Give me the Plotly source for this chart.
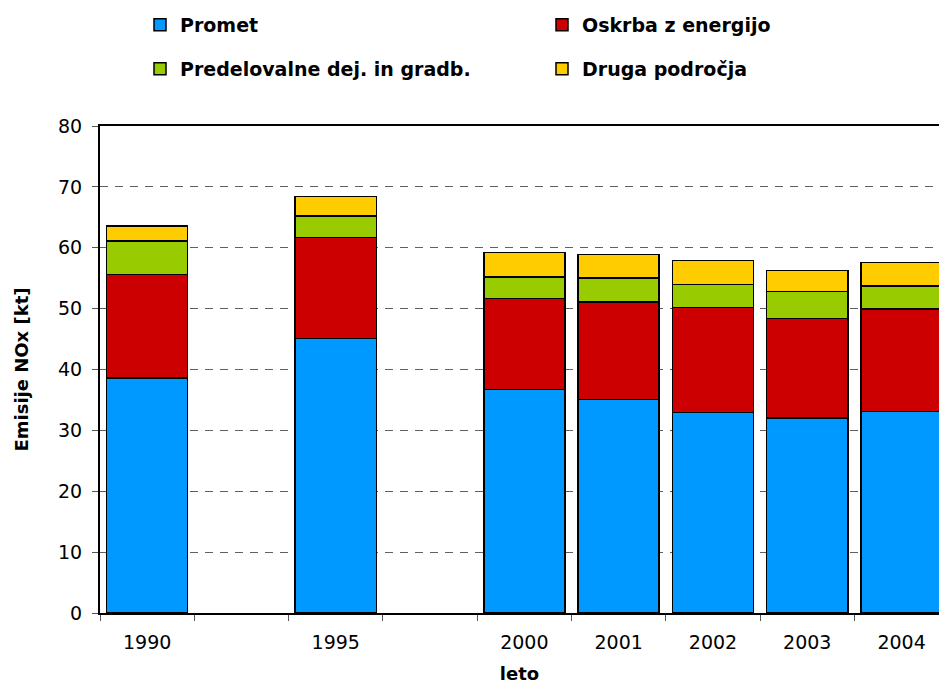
import plotly.graph_objects as go

# leta (prazni mesti med 1990, 1995 in 2000)
kategorije = ["1990", " ", "1995", "  ", "2000", "2001", "2002", "2003", "2004"]
leta = ["1990", "1995", "2000", "2001", "2002", "2003", "2004"]

promet = [38.6, 45.1, 36.7, 35.1, 32.9, 32.0, 33.1]
oskrba = [17.0, 16.6, 15.0, 16.0, 17.3, 16.4, 16.8]
predelovalne = [5.5, 3.5, 3.5, 3.9, 3.8, 4.4, 3.8]
druga = [2.5, 3.2, 4.0, 3.9, 3.9, 3.5, 3.9]

serije = [
    ("Promet", promet, "#0099FF", "legend"),
    ("Oskrba z energijo", oskrba, "#CC0000", "legend"),
    ("Predelovalne dej. in gradb.", predelovalne, "#99CC00", "legend2"),
    ("Druga področja", druga, "#FFCC00", "legend2"),
]

fig = go.Figure()
for ime, vrednosti, barva, leg in serije:
    fig.add_trace(go.Bar(
        x=leta, y=vrednosti, name=ime,
        marker=dict(color=barva, line=dict(color="black", width=1.5)),
        legend=leg))

FONT = "DejaVu Sans"

def legenda(y):
    return dict(
        orientation="h", xref="container", yref="container",
        x=140 / 939, y=y, xanchor="left", yanchor="middle",
        entrywidth=357, traceorder="normal",
        bgcolor="rgba(0,0,0,0)",
        font=dict(family=FONT, size=19, color="black", weight="bold"))

fig.update_layout(
    width=939, height=684,
    barmode="stack", bargap=0.14,
    plot_bgcolor="white", paper_bgcolor="white",
    margin=dict(l=100, r=0, t=126, b=71),
    font=dict(family=FONT, size=19, color="black"),
    legend=legenda(1 - 25 / 684),
    legend2=legenda(1 - 69 / 684),
    xaxis=dict(
        type="category", categoryorder="array", categoryarray=kategorije,
        range=[-0.5, 8.397], tickson="boundaries", automargin=False,
        ticks="outside", ticklen=6, tickcolor="#555555", tickwidth=1,
        ticklabelstandoff=11,
        showline=True, linecolor="black", linewidth=2, mirror=True,
        showgrid=False,
        title=dict(text="leto", font=dict(family=FONT, size=18, weight="bold"),
                   standoff=18)),
    yaxis=dict(
        range=[0, 80], dtick=10, automargin=False,
        ticks="outside", ticklen=6, tickcolor="#555555",
        ticklabelstandoff=6,
        showline=True, linecolor="black", linewidth=2,
        showgrid=True, gridcolor="#606060", gridwidth=1, griddash="8px,7px",
        zeroline=False,
        title=dict(text="Emisije NOx [kt]",
                   font=dict(family=FONT, size=18, weight="bold"),
                   standoff=25)),
)

# stran brez robov, da graf zapolni celo okno
fig.write_html("out.html",
               config={"displayModeBar": False},
               post_script="document.body.style.margin='0';"
                           "document.body.style.overflow='hidden';")
